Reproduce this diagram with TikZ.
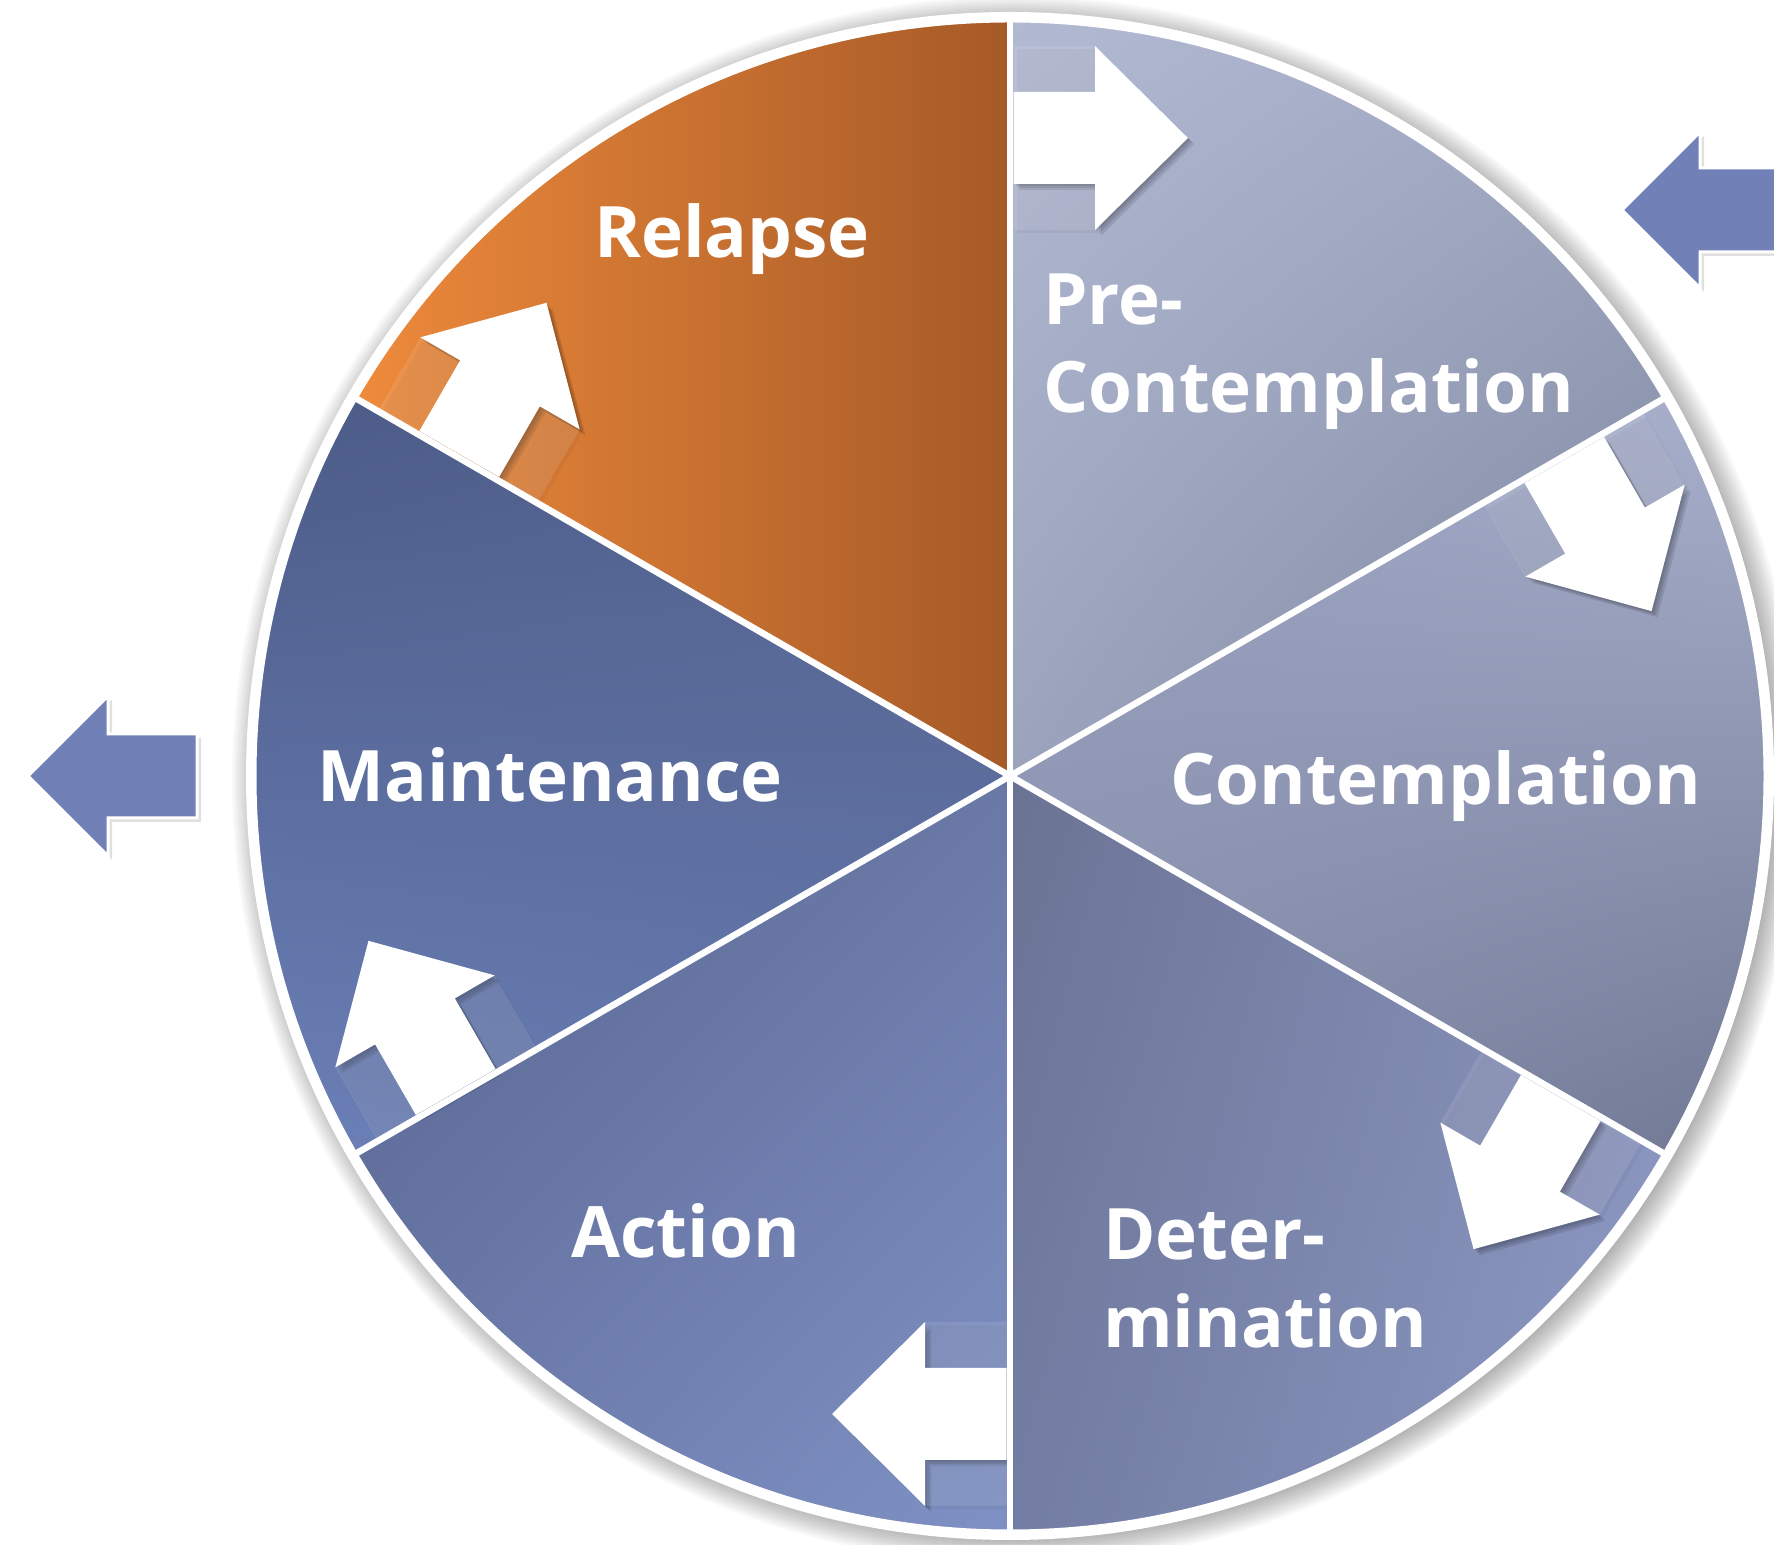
\documentclass[tikz,border=0pt]{standalone}
\usepackage{fontspec}
\setmainfont{Open Sans}
\usetikzlibrary{calc,shadings}
\definecolor{arrowblue}{HTML}{7181B7}
\tikzset{
  lbl/.style={text=white, font=\bfseries\fontsize{71}{88}\selectfont, inner sep=0pt, anchor=base west},
  sep/.style={white, line width=6.5pt},
  extarrow/.style={fill=arrowblue, draw=white, line width=3pt, line join=miter},
}
\newcommand{\cycarrow}[1]{%
  \begin{scope}[shift={($(C)+(3,-3)$)}, rotate=#1-90]
    \fill[black, opacity=0.035] (3.5,546) rectangle (85,730);
  \end{scope}
  \foreach \k/\o in {1/0.10,2/0.10,3/0.10}{%
    \begin{scope}[shift={($(C)+(2*\k,-2*\k)$)}, rotate=#1-90]
      \fill[black, opacity=\o] (3.5,592) -- (85,592) -- (85,546) -- (178,638) -- (85,730) -- (85,684) -- (3.5,684) -- cycle;
    \end{scope}}
  \begin{scope}[shift={(C)}, rotate=#1-90]
    \fill[white, opacity=0.10] (3.5,546) rectangle (85,730);
    \fill[white] (3.5,592) -- (85,592) -- (85,546) -- (178,638) -- (85,730) -- (85,684) -- (3.5,684) -- cycle;
  \end{scope}}
\begin{document}
\begin{tikzpicture}[x=1pt,y=1pt]
\useasboundingbox (0,0) rectangle (1774,1544);
\clip (0,0) rectangle (1774,1544);
\fill[white] (0,0) rectangle (1774,1544);
\coordinate (C) at (1010,768);
\def\R{757}
% soft shadow around the disc
\foreach \i in {1,...,14}{\fill[black, opacity=0.022] ($(C)+(6,-4)$) circle (756+\i*2);}
\fill[white] (C) circle (764);
% segments
\definecolor{rl}{HTML}{EE8A3B}\definecolor{rr}{HTML}{A65A27}
\shade[left color=rl, right color=rr] (C) -- ($(C)+(90:\R)$) arc[start angle=90, end angle=150, radius=\R] -- cycle;
\definecolor{p1}{HTML}{B2B9D3}\definecolor{p2}{HTML}{A3AAC4}\definecolor{p3}{HTML}{9CA3BC}\definecolor{p4}{HTML}{7C849C}
\shade[upper left=p1, upper right=p2, lower left=p3, lower right=p4] (C) -- ($(C)+(30:\R)$) arc[start angle=30, end angle=90, radius=\R] -- cycle;
\definecolor{c1}{HTML}{99A1BF}\definecolor{c2}{HTML}{A9B1CD}\definecolor{c3}{HTML}{8890AE}\definecolor{c4}{HTML}{6F7793}
\shade[upper left=c1, upper right=c2, lower left=c3, lower right=c4] (C) -- ($(C)+(-30:\R)$) arc[start angle=-30, end angle=30, radius=\R] -- cycle;
\definecolor{d1}{HTML}{6B7394}\definecolor{d2}{HTML}{8791B8}\definecolor{d3}{HTML}{737DA3}\definecolor{d4}{HTML}{8D9AC6}
\shade[upper left=d1, upper right=d2, lower left=d3, lower right=d4] (C) -- ($(C)+(-90:\R)$) arc[start angle=-90, end angle=-30, radius=\R] -- cycle;
\definecolor{a1}{HTML}{57638D}\definecolor{a2}{HTML}{6A78A6}\definecolor{a3}{HTML}{6C7BAC}\definecolor{a4}{HTML}{7F91C4}
\shade[upper left=a1, upper right=a2, lower left=a3, lower right=a4] (C) -- ($(C)+(-150:\R)$) arc[start angle=-150, end angle=-90, radius=\R] -- cycle;
\definecolor{m1}{HTML}{4B5A86}\definecolor{m2}{HTML}{55648F}\definecolor{m3}{HTML}{6C81B9}\definecolor{m4}{HTML}{6376AA}
\shade[upper left=m1, upper right=m2, lower left=m3, lower right=m4] (C) -- ($(C)+(150:\R)$) arc[start angle=150, end angle=210, radius=\R] -- cycle;
% cycle arrows
\cycarrow{90}\cycarrow{30}\cycarrow{-30}\cycarrow{-90}\cycarrow{-150}\cycarrow{150}
% separators and rim
\foreach \a in {90,30,-30,-90,-150,150}{\draw[sep] (C) -- ($(C)+(\a:\R)$);}
\draw[white, line width=7pt] (C) circle (\R);
% outside arrows
\fill[black, opacity=0.12] (32,764) -- (112,844) -- (112,806) -- (201,806) -- (201,722) -- (112,722) -- (112,684) -- cycle;
\draw[extarrow] (28,768) -- (108,848) -- (108,810) -- (197,810) -- (197,726) -- (108,726) -- (108,688) -- cycle;
\fill[black, opacity=0.12] (1626,1330) -- (1704,1408) -- (1704,1372) -- (1800,1372) -- (1800,1288) -- (1704,1288) -- (1704,1252) -- cycle;
\draw[extarrow] (1622,1334) -- (1700,1412) -- (1700,1376) -- (1800,1376) -- (1800,1292) -- (1700,1292) -- (1700,1256) -- cycle;
% labels
\node[lbl] (relapse) at (594,1286) {Relapse};
\node[lbl] (pre1) at (1043,1219) {Pre-};
\node[lbl] (pre2) at (1043,1131) {Contemplation};
\node[lbl] (contemp) at (1170,739) {Contemplation};
\node[lbl] (maint) at (317,742) {Maintenance};
\node[lbl] (action) at (571,286) {Action};
\node[lbl] (det1) at (1103,284) {Deter-};
\node[lbl] (det2) at (1103,196) {mination};
\end{tikzpicture}
\end{document}
